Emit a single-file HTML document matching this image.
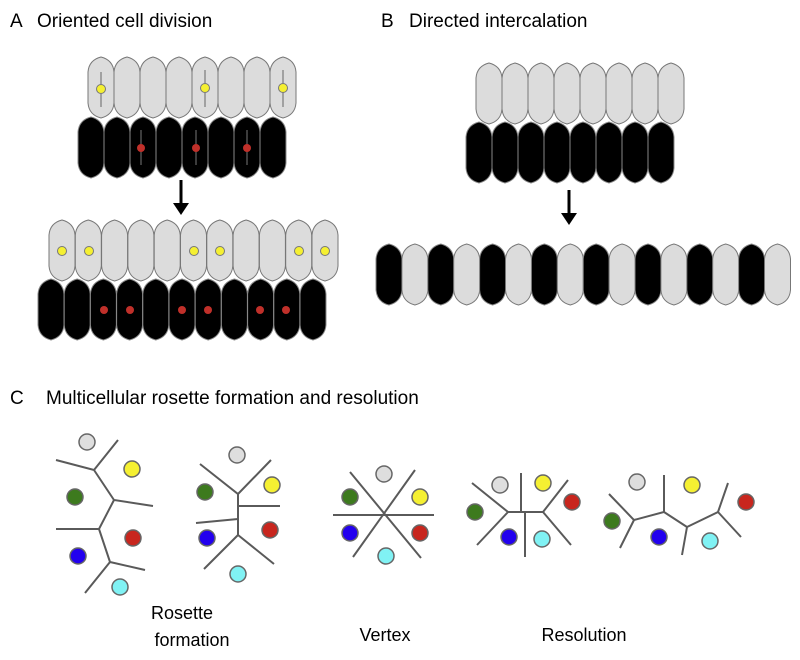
<!DOCTYPE html>
<html><head><meta charset="utf-8"><style>
body{margin:0;background:#fff}
svg{display:block}
text{font-family:"Liberation Sans",sans-serif;fill:#000}
</style></head><body>
<svg width="800" height="660" viewBox="0 0 800 660" xmlns="http://www.w3.org/2000/svg">
<defs>
<path id="c" d="M0,15 Q1,3 13,0 Q25,3 26,15 L26,46 Q25,58 13,61 Q1,58 0,46 Z" stroke-width="1"/>
<g id="L"><use href="#c" fill="#dcdcdc" stroke="#777"/></g>
<g id="D"><use href="#c" fill="#000" stroke="#888"/></g>
</defs>
<text x="10" y="27" font-size="19">A</text><text x="37" y="27" font-size="19">Oriented cell division</text>
<text x="381" y="27" font-size="19">B</text><text x="409" y="27" font-size="19">Directed intercalation</text>
<text x="10" y="404" font-size="19">C</text><text x="46" y="404" font-size="19">Multicellular rosette formation and resolution</text>

<g transform="translate(88,57)">
<use href="#L" x="0"/><use href="#L" x="26"/><use href="#L" x="52"/><use href="#L" x="78"/><use href="#L" x="104"/><use href="#L" x="130"/><use href="#L" x="156"/><use href="#L" x="182"/>
</g>
<g stroke="#666" stroke-width="1"><line x1="101" y1="72" x2="101" y2="107"/><line x1="205" y1="70" x2="205" y2="107"/><line x1="283" y1="70" x2="283" y2="107"/></g>
<g fill="#f5f032" stroke="#777"><circle cx="101" cy="89" r="4.5"/><circle cx="205" cy="88" r="4.5"/><circle cx="283" cy="88" r="4.5"/></g>
<g transform="translate(78,117)">
<use href="#D" x="0"/><use href="#D" x="26"/><use href="#D" x="52"/><use href="#D" x="78"/><use href="#D" x="104"/><use href="#D" x="130"/><use href="#D" x="156"/><use href="#D" x="182"/>
</g>
<g stroke="#777" stroke-width="1"><line x1="141" y1="130" x2="141" y2="165"/><line x1="196" y1="130" x2="196" y2="165"/><line x1="247" y1="130" x2="247" y2="165"/></g>
<g fill="#c0302a"><circle cx="141" cy="148" r="4"/><circle cx="196" cy="148" r="4"/><circle cx="247" cy="148" r="4"/></g>
<line x1="181" y1="180" x2="181" y2="205" stroke="#000" stroke-width="3"/>
<polygon points="173,203 189,203 181,215" fill="#000"/>
<g transform="translate(49,220)">
<use href="#L" x="0"/><use href="#L" x="26.3"/><use href="#L" x="52.6"/><use href="#L" x="78.9"/><use href="#L" x="105.2"/><use href="#L" x="131.5"/><use href="#L" x="157.8"/><use href="#L" x="184.1"/><use href="#L" x="210.4"/><use href="#L" x="236.7"/><use href="#L" x="263"/>
</g>
<g fill="#f5f032" stroke="#777"><circle cx="62" cy="251" r="4.5"/><circle cx="89" cy="251" r="4.5"/><circle cx="194" cy="251" r="4.5"/><circle cx="220" cy="251" r="4.5"/><circle cx="299" cy="251" r="4.5"/><circle cx="325" cy="251" r="4.5"/></g>
<g transform="translate(38,279)">
<use href="#D" x="0"/><use href="#D" x="26.2"/><use href="#D" x="52.4"/><use href="#D" x="78.6"/><use href="#D" x="104.8"/><use href="#D" x="131"/><use href="#D" x="157.2"/><use href="#D" x="183.4"/><use href="#D" x="209.6"/><use href="#D" x="235.8"/><use href="#D" x="262"/>
</g>
<g fill="#c0302a"><circle cx="104" cy="310" r="4"/><circle cx="130" cy="310" r="4"/><circle cx="182" cy="310" r="4"/><circle cx="208" cy="310" r="4"/><circle cx="260" cy="310" r="4"/><circle cx="286" cy="310" r="4"/></g>

<g transform="translate(476,63)">
<use href="#L" x="0"/><use href="#L" x="26"/><use href="#L" x="52"/><use href="#L" x="78"/><use href="#L" x="104"/><use href="#L" x="130"/><use href="#L" x="156"/><use href="#L" x="182"/>
</g>
<g transform="translate(466,122)">
<use href="#D" x="0"/><use href="#D" x="26"/><use href="#D" x="52"/><use href="#D" x="78"/><use href="#D" x="104"/><use href="#D" x="130"/><use href="#D" x="156"/><use href="#D" x="182"/>
</g>
<line x1="569" y1="190" x2="569" y2="215" stroke="#000" stroke-width="3"/>
<polygon points="561,213 577,213 569,225" fill="#000"/>
<g transform="translate(376,244)">
<use href="#D" x="0"/><use href="#L" x="25.9"/><use href="#D" x="51.8"/><use href="#L" x="77.7"/><use href="#D" x="103.6"/><use href="#L" x="129.5"/><use href="#D" x="155.4"/><use href="#L" x="181.3"/><use href="#D" x="207.2"/><use href="#L" x="233.1"/><use href="#D" x="259"/><use href="#L" x="284.9"/><use href="#D" x="310.8"/><use href="#L" x="336.7"/><use href="#D" x="362.6"/><use href="#L" x="388.5"/>
</g>

<g stroke="#5a5a5a" stroke-width="2" fill="none">
<path d="M56,460 L94,470 L118,440 M94,470 L114,500 L153,506 M114,500 L99,529 L56,529 M99,529 L110,562 L145,570 M110,562 L85,593"/>
<path d="M200,464 L238,494 L271,460 M238,494 L238,535 M238,506 L280,506 M196,523 L238,519 M238,535 L204,569 M238,535 L274,564"/>
<path d="M333,515 L434,515 M350,472 L421,558 M353,557 L415,470"/>
<path d="M472,483 L508,512 L477,545 M508,512 L543,512 M521,473 L521,512 M543,512 L568,480 M543,512 L571,545 M525,512 L525,557"/>
<path d="M609,494 L634,520 L620,548 M634,520 L664,512 L664,475 M664,512 L687,527 L682,555 M687,527 L718,512 L728,483 M718,512 L741,537"/>
</g>
<g stroke="#666" stroke-width="1.5">
<circle cx="87" cy="442" r="8" fill="#dedede"/><circle cx="132" cy="469" r="8" fill="#f5f032"/><circle cx="75" cy="497" r="8" fill="#3d7a1e"/><circle cx="133" cy="538" r="8" fill="#c8261e"/><circle cx="78" cy="556" r="8" fill="#2200ee"/><circle cx="120" cy="587" r="8" fill="#80f2f4"/>
<circle cx="237" cy="455" r="8" fill="#dedede"/><circle cx="272" cy="485" r="8" fill="#f5f032"/><circle cx="205" cy="492" r="8" fill="#3d7a1e"/><circle cx="270" cy="530" r="8" fill="#c8261e"/><circle cx="207" cy="538" r="8" fill="#2200ee"/><circle cx="238" cy="574" r="8" fill="#80f2f4"/>
<circle cx="384" cy="474" r="8" fill="#dedede"/><circle cx="420" cy="497" r="8" fill="#f5f032"/><circle cx="350" cy="497" r="8" fill="#3d7a1e"/><circle cx="420" cy="533" r="8" fill="#c8261e"/><circle cx="350" cy="533" r="8" fill="#2200ee"/><circle cx="386" cy="556" r="8" fill="#80f2f4"/>
<circle cx="500" cy="485" r="8" fill="#dedede"/><circle cx="543" cy="483" r="8" fill="#f5f032"/><circle cx="475" cy="512" r="8" fill="#3d7a1e"/><circle cx="572" cy="502" r="8" fill="#c8261e"/><circle cx="509" cy="537" r="8" fill="#2200ee"/><circle cx="542" cy="539" r="8" fill="#80f2f4"/>
<circle cx="637" cy="482" r="8" fill="#dedede"/><circle cx="692" cy="485" r="8" fill="#f5f032"/><circle cx="612" cy="521" r="8" fill="#3d7a1e"/><circle cx="746" cy="502" r="8" fill="#c8261e"/><circle cx="659" cy="537" r="8" fill="#2200ee"/><circle cx="710" cy="541" r="8" fill="#80f2f4"/>
</g>
<text x="182" y="619" font-size="18" text-anchor="middle">Rosette</text>
<text x="192" y="646" font-size="18" text-anchor="middle">formation</text>
<text x="385" y="641" font-size="18" text-anchor="middle">Vertex</text>
<text x="584" y="641" font-size="18" text-anchor="middle">Resolution</text>
</svg>
</body></html>
